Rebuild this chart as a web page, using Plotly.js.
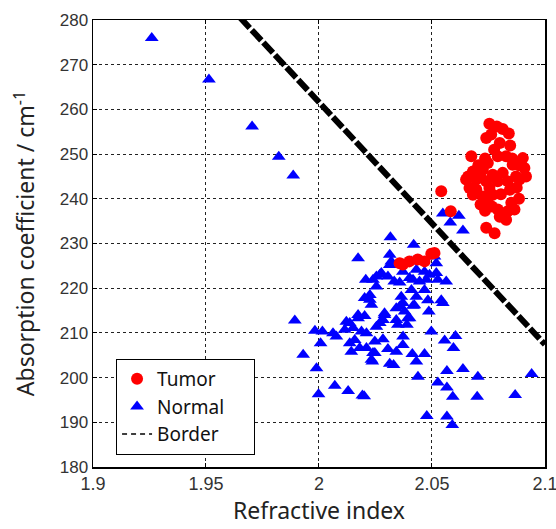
<!DOCTYPE html>
<html>
<head>
<meta charset="utf-8">
<script src="https://cdn.plot.ly/plotly-3.0.1.min.js"></script>
<style>html,body{margin:0;padding:0;background:#fff;}#chart{width:556px;height:529px;}</style>
</head>
<body>
<div id="chart"></div>
<script>
// Tumor (red circles)
const tumorX = [2.0754,2.0787,2.0813,2.084,2.074,2.0762,2.0846,2.0674,2.0791,2.0828,2.0902,2.0747,2.0857,2.0909,2.0681,2.0725,2.0769,2.0813,2.0872,2.0916,2.0651,2.0695,2.074,2.0791,2.0835,2.0887,2.0666,2.0696,2.0754,2.0681,2.0725,2.0769,2.0541,2.0715,2.0747,2.0791,2.0851,2.0865,2.0835,2.0828,2.0583,2.074,2.0777,2.0371,2.04,2.0437,2.0467,2.0497,2.0511,2.0357,2.0705,2.0735,2.0775,2.080,2.0855,2.0885,2.066,2.0715,2.0805,2.0845,2.0875,2.0885,2.0765,2.0800,2.0735];
const tumorY = [256.8,256.2,255.6,254.6,253.6,254.4,251.9,249.5,249.5,249.5,249.1,248.0,247.6,246.9,246.1,246.5,245.4,245.8,245.0,245.0,244.3,244.3,243.9,243.9,243.9,244.3,242.4,242.1,242.4,240.9,240.5,240.9,241.7,238.7,239.1,237.6,239.1,237.6,237.2,235.3,237.2,233.5,232.3,225.3,226.0,226.4,226.0,227.7,227.9,225.6,247.5,249.0,251.0,252.5,249.0,247.5,245.0,244.8,241.0,242.0,242.5,240.0,238.3,236.0,237.3];

// Normal (blue triangles)
const normalX = [1.926,1.9513,1.9704,1.9822,1.9886,1.9893,1.9982,2.0015,2.0007,1.993,1.9989,1.9998,2.007,2.0129,2.0192,2.0200,2.0062,2.0077,2.0121,2.0173,2.0202,2.0114,2.0151,2.0188,2.021,2.0136,2.0158,2.018,2.0143,2.021,2.0247,2.0247,2.0232,2.0254,2.0225,2.0548,2.0486,2.0497,2.0556,2.0604,2.0595,2.0467,2.0413,2.0431,2.0438,2.0566,2.0637,2.0703,2.0941,2.0526,2.0566,2.0592,2.07,2.0868,2.0477,2.0566,2.059,2.0372,2.0283,2.0305,2.0342,2.0371,2.0239,2.0236,2.0313,2.033,2.0401,2.0389,2.0349,2.029,2.0269,2.0357,2.0416,2.0371,2.0548,2.0581,2.0619,2.0637,2.0316,2.0419,2.0313,2.032,2.0409,2.0511,2.0519,2.0276,2.0305,2.0371,2.0431,2.0467,2.0489,2.0519,2.0526,2.0563,2.0333,2.0357,2.0416,2.0445,2.0475,2.0239,2.0254,2.0409,2.0467,2.0364,2.0431,2.0482,2.0541,2.0173,2.0207,2.0254,2.0225,2.0202,2.0232,2.0269,2.0313,2.0401,2.0422,2.0342,2.0379,2.029,2.0136,2.0173,2.0283,2.0342,2.0393];
const normalY = [276.0,266.7,256.2,249.4,245.2,212.8,210.5,210.3,207.7,205.1,202.1,196.3,198.2,197.0,196.0,195.8,209.9,209.2,212.5,213.3,213.8,210.7,211.1,210.3,209.9,207.7,208.4,206.6,205.8,206.6,208.1,205.5,204.0,211.4,217.4,216.7,214.8,210.3,208.3,209.3,206.6,205.3,205.3,203.6,200.2,201.5,201.9,200.2,200.8,198.9,197.8,195.7,195.7,196.1,191.4,191.3,189.4,209.2,208.6,206.4,205.8,207.3,205.5,203.6,203.1,202.8,213.3,211.8,211.8,214.0,212.2,215.9,216.1,216.7,236.7,234.7,236.2,232.9,231.4,229.7,227.5,226.0,226.0,227.1,225.6,223.4,222.6,223.7,224.1,223.7,223.0,223.4,221.9,221.5,221.5,221.3,221.9,221.5,221.9,221.9,220.4,219.6,219.6,218.1,218.1,217.3,217.3,226.7,221.9,222.6,218.5,217.8,216.3,223.0,225.2,222.3,216.2,215.5,214.8,214.4,212.2,214.0,212.9,212.9,213.3];

// Border line endpoints
const borderX = [1.96, 2.1];
const borderY = [283.3, 207.4];

const xTicks = [1.9, 1.95, 2, 2.05, 2.1];
const xTickText = ["1.9", "1.95", "2", "2.05", "2.1"];
const yTicks = [180, 190, 200, 210, 220, 230, 240, 250, 260, 270, 280];
const pad = '\u00a0\u00a0\u00a0\u00a0\u00a0';

const traces = [
  {x: borderX, y: borderY, mode: 'lines', name: 'Border', showlegend: false,
   line: {color: '#000', width: 6, dash: '14px,3px'}, hoverinfo: 'skip'},
  {x: normalX, y: normalY, mode: 'markers', name: 'Normal', showlegend: false,
   marker: {symbol: 'triangle-up', size: 12, color: '#0000ff'}},
  {x: tumorX, y: tumorY, mode: 'markers', name: 'Tumor',
   marker: {symbol: 'circle', size: 12, color: '#ff0000'}},
  {x: [null], y: [null], mode: 'markers', name: 'Normal' + pad,
   marker: {symbol: 'triangle-up', size: 12, color: '#0000ff'}},
  {x: [null], y: [null], mode: 'lines', name: 'Border',
   line: {color: '#000', width: 1.5, dash: '5px,4px'}}
];

const gridStyle = {showgrid: true, gridcolor: '#222', griddash: 'dot', gridwidth: 1};

const layout = {
  width: 556, height: 529,
  margin: {l: 93, r: 11, t: 20, b: 62},
  paper_bgcolor: '#fff', plot_bgcolor: '#fff',
  showlegend: true,
  legend: {x: 0.051, y: 0.242, xanchor: 'left', yanchor: 'top',
    bgcolor: '#fff', bordercolor: '#000', borderwidth: 1,
    font: {family: 'Noto Sans, sans-serif', size: 19, color: '#111'},
    tracegroupgap: 0},
  xaxis: Object.assign({
    range: [1.9, 2.10001], tickvals: xTicks, ticktext: xTickText,
    ticks: 'inside', ticklen: 4, tickcolor: '#000', ticklabeloverflow: 'allow',
    showline: true, linecolor: '#000', linewidth: 1.5, mirror: 'ticks',
    zeroline: false,
    tickfont: {family: 'Liberation Sans, Arial, sans-serif', size: 18, color: '#333'},
    title: {text: 'Refractive index', font: {family: 'Noto Sans, sans-serif', size: 23, color: '#222'}, standoff: 9}
  }, gridStyle),
  yaxis: Object.assign({
    range: [180, 280], tickvals: yTicks,
    ticks: 'inside', ticklen: 4, tickcolor: '#000',
    showline: true, linecolor: '#000', linewidth: 1.5, mirror: 'ticks',
    zeroline: false,
    tickfont: {family: 'Liberation Sans, Arial, sans-serif', size: 17, color: '#333'},
    title: {text: 'Absorption coefficient / cm<sup>-1</sup>', font: {family: 'Noto Sans, sans-serif', size: 23, color: '#222'}, standoff: 18}
  }, gridStyle)
};

Plotly.newPlot('chart', traces, layout, {displayModeBar: false, staticPlot: true});
</script>
</body>
</html>
